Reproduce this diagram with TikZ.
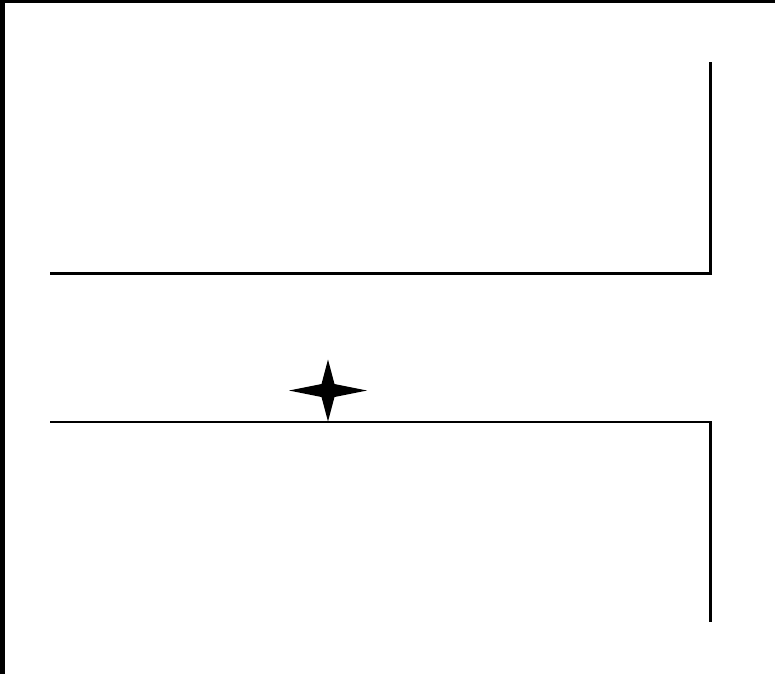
\documentclass[tikz,border=0pt]{standalone}
\usetikzlibrary{calc}
\begin{document}
\begin{tikzpicture}[x=1pt,y=-1pt,
  wall/.style={line width=2.5pt,line cap=butt,line join=miter},
  band/.style={fill=black,draw=none}]
\useasboundingbox (0,0) rectangle (775,674);
\fill[white] (0,0) rectangle (775,674);
% frame bands
\path[band] (0,0) rectangle (5,674);
\path[band] (0,0) rectangle (775,3);
% upper wall
\coordinate (a1) at (50,273.5);
\coordinate (a2) at (710.5,273.5);
\coordinate (a3) at (710.5,62);
\draw[wall] (a1) -- (a2) -- (a3);
% lower wall
\coordinate (b1) at (50,422);
\coordinate (b2) at (710.5,422);
\coordinate (b3) at (710.5,622);
\draw[wall] (b1) -- (b2) -- (b3);
% star
\coordinate (s) at (328,390.5);
\fill[black] ($(s)+(-39,0)$) -- ($(s)+(-6.5,-6.5)$) -- ($(s)+(0,-31)$) -- ($(s)+(6.5,-6.5)$)
  -- ($(s)+(39,0)$) -- ($(s)+(6.5,6.5)$) -- ($(s)+(0,31)$) -- ($(s)+(-6.5,6.5)$) -- cycle;
\end{tikzpicture}
\end{document}
